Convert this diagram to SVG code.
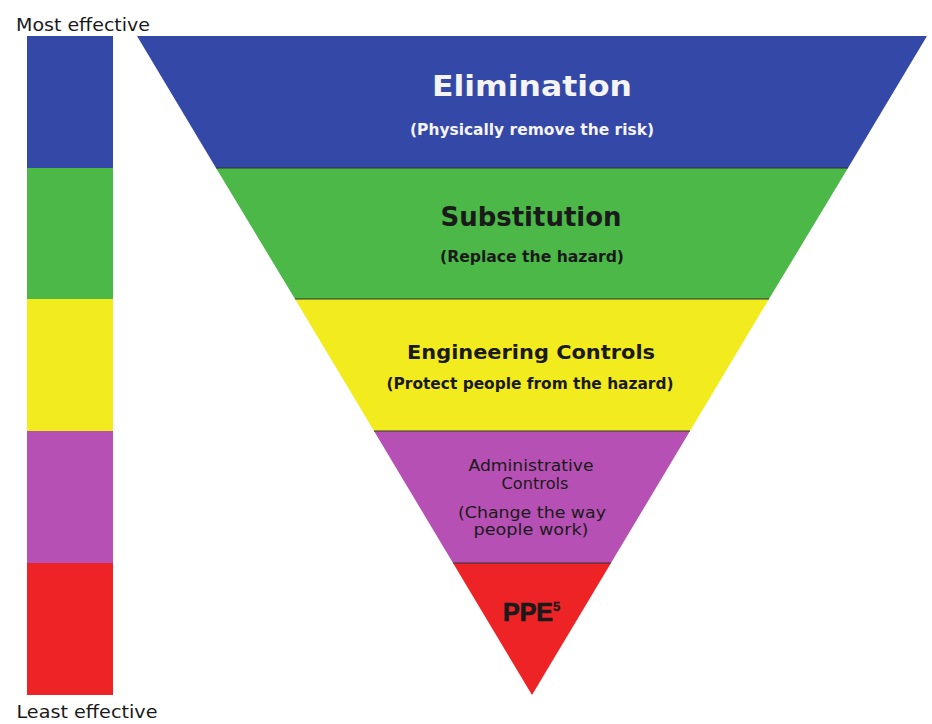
<svg xmlns="http://www.w3.org/2000/svg" width="932" height="724" viewBox="0 0 932 724">
<style>
.t{font-family:"DejaVu Sans","Liberation Sans",Arial,sans-serif;text-anchor:middle;fill:#1a1a1a}
.b{font-weight:bold}
.w{fill:#f4f4f4}
.sep{stroke:#333;stroke-width:1}
</style>
<rect width="932" height="724" fill="#ffffff"/>
<g id="scale">
<rect x="27" y="36" width="86" height="132" fill="#3448a8"/>
<rect x="27" y="168" width="86" height="131" fill="#4cb848"/>
<rect x="27" y="299" width="86" height="132" fill="#f2ec1e"/>
<rect x="27" y="431" width="86" height="132" fill="#b650b4"/>
<rect x="27" y="563" width="86" height="132" fill="#ee2326"/>
<text class="t" x="83" y="31" font-size="17" textLength="134" lengthAdjust="spacingAndGlyphs">Most effective</text>
<text class="t" x="87" y="718" font-size="18" textLength="141" lengthAdjust="spacingAndGlyphs">Least effective</text>
</g>
<g id="elimination">
<polygon points="137,36 927,36 848,168 216,168" fill="#3448a8"/>
<text class="t w b" x="532" y="96" font-size="29" textLength="200" lengthAdjust="spacingAndGlyphs">Elimination</text>
<text class="t w b" x="532" y="135" font-size="16" textLength="244" lengthAdjust="spacingAndGlyphs">(Physically remove the risk)</text>
</g>
<g id="substitution">
<polygon points="216,168 848,168 769,299 295,299" fill="#4cb848"/>
<text class="t b" x="531" y="226" font-size="26" textLength="181" lengthAdjust="spacingAndGlyphs">Substitution</text>
<text class="t b" x="532" y="262" font-size="15" textLength="184" lengthAdjust="spacingAndGlyphs">(Replace the hazard)</text>
</g>
<g id="engineering">
<polygon points="295,299 769,299 690,431 374,431" fill="#f2ec1e"/>
<text class="t b" x="531" y="359" font-size="20" textLength="248" lengthAdjust="spacingAndGlyphs">Engineering Controls</text>
<text class="t b" x="530" y="389" font-size="16" textLength="287" lengthAdjust="spacingAndGlyphs">(Protect people from the hazard)</text>
</g>
<g id="administrative">
<polygon points="374,431 690,431 611,563 453,563" fill="#b650b4"/>
<text class="t" x="531" y="471" font-size="15" textLength="125" lengthAdjust="spacingAndGlyphs">Administrative</text>
<text class="t" x="535" y="489" font-size="15" textLength="67" lengthAdjust="spacingAndGlyphs">Controls</text>
<text class="t" x="532" y="518" font-size="15" textLength="148" lengthAdjust="spacingAndGlyphs">(Change the way</text>
<text class="t" x="531" y="535" font-size="15" textLength="115" lengthAdjust="spacingAndGlyphs">people work)</text>
</g>
<g id="ppe">
<polygon points="453,563 611,563 532,695" fill="#ee2326"/>
<text font-family="'Liberation Sans',Arial,sans-serif" font-weight="bold" fill="#1a1a1a" stroke="#1a1a1a" stroke-width="0.7" x="503" y="621" font-size="25">PPE<tspan font-size="13" dy="-10" stroke-width="0.3">5</tspan></text>
</g>
<g id="connectors">
<line class="sep" x1="216" y1="168" x2="848" y2="168"/>
<line class="sep" x1="295" y1="299" x2="769" y2="299"/>
<line class="sep" x1="374" y1="431" x2="690" y2="431"/>
<line class="sep" x1="453" y1="563" x2="611" y2="563"/>
</g>
</svg>
